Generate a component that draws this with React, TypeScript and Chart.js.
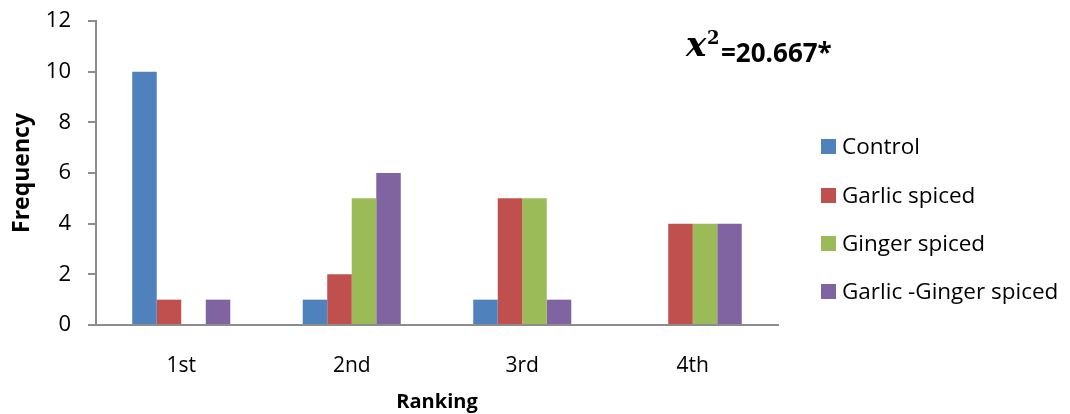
import React, { useEffect, useRef } from "react";
import { Chart, registerables } from "chart.js";

Chart.register(...registerables);

const categories = ["1st", "2nd", "3rd", "4th"];
const seriesNames = ["Control", "Garlic spiced", "Ginger spiced", "Garlic -Ginger spiced"];
const control = [10, 1, 1, 0];
const garlic = [1, 2, 5, 4];
const ginger = [0, 5, 5, 4];
const garlicGinger = [1, 6, 1, 4];
const colors = ["#4F81BD", "#C0504D", "#9BBB59", "#8064A2"];
const yTicks = [0, 2, 4, 6, 8, 10, 12];
const chiLabel = "=20.667*";

const FONT = "Open Sans";

const legendPlugin = {
  id: "customLegend",
  afterDraw(chart: any) {
    const ctx = chart.ctx;
    ctx.save();
    const x0 = 821;
    const ys = [147, 196, 244, 292];
    chart.data.datasets.forEach((ds: any, i: number) => {
      ctx.fillStyle = ds.backgroundColor;
      ctx.fillRect(x0, ys[i] - 8, 15, 15);
      ctx.fillStyle = "#000";
      ctx.font = `22.5px "${FONT}"`;
      ctx.textBaseline = "middle";
      ctx.textAlign = "left";
      ctx.fillText(ds.label, x0 + 21, ys[i] + 1);
    });
    // chi-square annotation
    ctx.fillStyle = "#000";
    ctx.textBaseline = "alphabetic";
    ctx.font = `bold italic 34px "DejaVu Serif"`;
    ctx.fillText("x", 686, 56);
    ctx.font = `bold 18px "DejaVu Serif"`;
    ctx.fillText("2", 707, 44);
    ctx.font = `bold 26px "${FONT}"`;
    ctx.fillText(chiLabel, 721, 62);
    ctx.restore();
  },
};

export default function App() {
  const ref = useRef<HTMLCanvasElement | null>(null);
  useEffect(() => {
    document.body.style.margin = "0";
    const values = [control, garlic, ginger, garlicGinger];
    const chart = new Chart(ref.current as HTMLCanvasElement, {
      type: "bar",
      data: {
        labels: categories,
        datasets: seriesNames.map((name, i) => ({
          label: name,
          data: values[i],
          backgroundColor: colors[i],
          borderWidth: 0,
          categoryPercentage: 0.575,
          barPercentage: 1,
        })),
      },
      options: {
        animation: false,
        responsive: false,
        maintainAspectRatio: false,
        layout: { padding: { left: 0, right: 292, top: 21, bottom: 0 } },
        plugins: {
          legend: { display: false },
          tooltip: { enabled: false },
        },
        scales: {
          x: {
            grid: { display: false },
            border: { display: true, color: "#8c8c8c", width: 2 },
            ticks: {
              color: "#000",
              font: { family: FONT, size: 21 },
              padding: 20,
            },
            title: {
              display: true,
              text: "Ranking",
              color: "#000",
              font: { family: FONT, size: 20, weight: "bold" },
              padding: { top: 4, bottom: 0 },
            },
            afterFit(scale: any) {
              scale.height = 89;
              scale.paddingLeft = 0;
              scale.paddingRight = 0;
            },
          },
          y: {
            min: 0,
            max: 12,
            afterBuildTicks(scale: any) {
              scale.ticks = yTicks.map((v) => ({ value: v }));
            },
            grid: {
              display: true,
              drawOnChartArea: false,
              drawTicks: true,
              tickLength: 8,
              color: "#8c8c8c",
              lineWidth: 2,
            },
            border: { display: true, color: "#8c8c8c", width: 2 },
            ticks: {
              color: "#000",
              font: { family: FONT, size: 22 },
              padding: 17,
            },
            title: {
              display: true,
              text: "Frequency",
              color: "#000",
              font: { family: FONT, size: 23, weight: "bold" },
              padding: { top: 9, bottom: 0 },
            },
            afterFit(scale: any) {
              scale.width = 96;
              scale.paddingTop = 0;
              scale.paddingBottom = 0;
            },
          },
        },
      },
      plugins: [legendPlugin],
    } as any);
    return () => chart.destroy();
  }, []);
  return (
    <div style={{ width: 1070, height: 414 }}>
      <canvas ref={ref} width={1070} height={414} style={{ display: "block" }} />
    </div>
  );
}
